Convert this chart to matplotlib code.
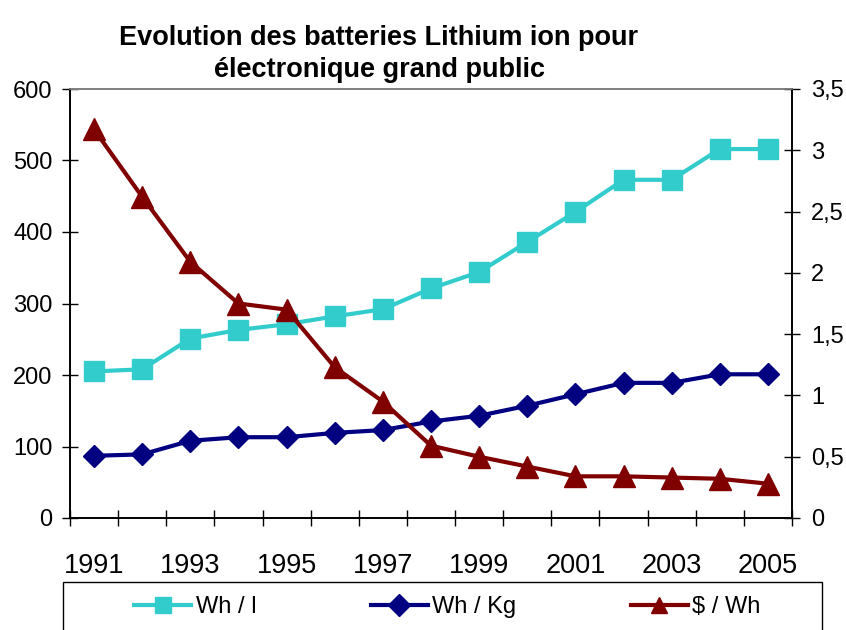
import numpy as np
import matplotlib
matplotlib.use("Agg")
import matplotlib.pyplot as plt
from matplotlib.patches import Rectangle

years = list(range(1991, 2006))
wh_l = [205, 208, 251, 263, 271, 282, 292, 321, 344, 386, 428, 473, 473, 516, 516]
wh_kg = [87, 89, 108, 113, 113, 119, 123, 135, 143, 157, 173, 189, 189, 201, 201]
usd_wh = [3.17, 2.62, 2.09, 1.75, 1.70, 1.23, 0.95, 0.59, 0.50, 0.42, 0.34, 0.34, 0.33, 0.32, 0.28]

left_ticks = [0, 100, 200, 300, 400, 500, 600]
right_ticks = [0, 0.5, 1, 1.5, 2, 2.5, 3, 3.5]
right_labels = ["0", "0,5", "1", "1,5", "2", "2,5", "3", "3,5"]

plt.rcParams['font.family'] = ['Liberation Sans', 'DejaVu Sans']

fig = plt.figure(figsize=(8.46, 6.3), dpi=100)
ax = fig.add_axes([70/846, 112/630, 722/846, 429/630])
ax2 = ax.twinx()

x = np.arange(len(years))
l1, = ax.plot(x, wh_l, color="#33CCCC", lw=3, marker="s", ms=15, label="Wh / l", zorder=3)
l2, = ax.plot(x, wh_kg, color="#000080", lw=3, marker="D", ms=11, label="Wh / Kg", zorder=3)
l3, = ax2.plot(x, usd_wh, color="#800000", lw=3, marker="^", ms=16, label="$ / Wh", zorder=3)

ax.set_xlim(-0.5, len(years) - 0.5)
ax.set_ylim(0, 600)
ax2.set_ylim(0, 3.5)

ax.set_yticks(left_ticks)
ax.set_yticklabels([str(v) for v in left_ticks])
ax2.set_yticks(right_ticks)
ax2.set_yticklabels(right_labels)

# category axis: ticks between categories, labels on every other year
ax.set_xticks(np.arange(-0.5, len(years)), labels=[])
ax.set_xticks(x[::2], labels=[str(y) for y in years[::2]], minor=True)
ax.tick_params(axis="x", which="major", direction="inout", length=11, width=1)
ax.tick_params(axis="x", which="minor", length=0, pad=25, labelsize=19.5)
ax.tick_params(axis="y", direction="inout", length=11, width=1, pad=7, labelsize=17)
ax2.tick_params(axis="y", direction="inout", length=11, width=1, pad=8, labelsize=17)

for a in (ax, ax2):
    a.spines["top"].set_color("#808080")
    for s in a.spines.values():
        s.set_linewidth(1.2)

fig.text(0.448, 1 - 54/630, "Evolution des batteries Lithium ion pour\nélectronique grand public",
         ha="center", va="center", fontsize=19.5, fontweight="bold", linespacing=1.3)

# legend box (cut by the bottom of the figure, as in the original)
fig.patches.append(Rectangle((63/846, -0.05), 759/846, 0.05 + 48/630,
                             transform=fig.transFigure, fill=False,
                             edgecolor="black", linewidth=1))
leg = fig.legend([l1, l2, l3], ["Wh / l", "Wh / Kg", "$ / Wh"], ncol=3, mode="expand",
                 loc="upper left", bbox_to_anchor=(120/846, 48/630, 655/846, 0),
                 fontsize=17, frameon=False, handlelength=2.4,
                 handletextpad=0.2, borderpad=0.6, borderaxespad=0)
for h in leg.legend_handles:
    h.set_markersize(11)

fig.savefig("out.png", dpi=100)
